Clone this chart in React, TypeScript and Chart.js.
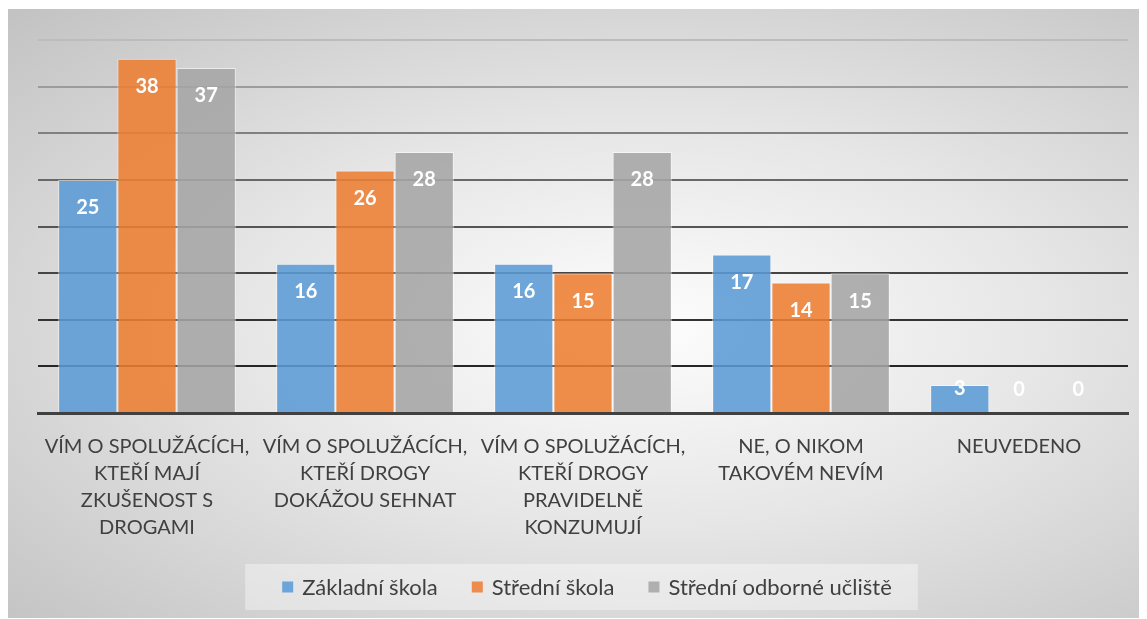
import React, { useEffect, useRef } from "react";
import { Chart, registerables } from "chart.js";

Chart.register(...registerables);

const categories: string[][] = [
  ["VÍM O SPOLUŽÁCÍCH,", "KTEŘÍ MAJÍ", "ZKUŠENOST S", "DROGAMI"],
  ["VÍM O SPOLUŽÁCÍCH,", "KTEŘÍ DROGY", "DOKÁŽOU SEHNAT"],
  ["VÍM O SPOLUŽÁCÍCH,", "KTEŘÍ DROGY", "PRAVIDELNĚ", "KONZUMUJÍ"],
  ["NE, O NIKOM", "TAKOVÉM NEVÍM"],
  ["NEUVEDENO"],
];

const seriesNames = ["Základní škola", "Střední škola", "Střední odborné učliště"];
const zakladni = [25, 16, 16, 17, 3];
const stredni = [38, 26, 15, 14, 0];
const soU = [37, 28, 28, 15, 0];

const FONT = "Lato, 'Noto Sans', sans-serif";

const gridColors: Record<number, string> = {
  0: "rgba(0,0,0,0)",
  5: "#262626",
  10: "#333333",
  15: "#454545",
  20: "#555555",
  25: "#686868",
  30: "#808080",
  35: "#9c9c9c",
  40: "#bcbcbc",
};

const dataLabelPlugin = {
  id: "dataLabels",
  afterDatasetsDraw(chart: any) {
    const ctx = chart.ctx;
    ctx.save();
    ctx.fillStyle = "#ffffff";
    ctx.font = `bold 20px ${FONT}`;
    ctx.textAlign = "center";
    ctx.textBaseline = "middle";
    chart.data.datasets.forEach((ds: any, i: number) => {
      const meta = chart.getDatasetMeta(i);
      meta.data.forEach((bar: any, j: number) => {
        const y = Math.min(bar.y + 28, bar.base - 23);
        ctx.fillText(String(ds.data[j]), bar.x, y);
      });
    });
    ctx.restore();
  },
};

const legendPlugin = {
  id: "customLegend",
  afterDraw(chart: any) {
    const ctx = chart.ctx;
    const font = `22px ${FONT}`;
    ctx.save();
    ctx.font = font;
    const box = 11;
    const gapText = 9;
    const gapItem = 34;
    const widths = chart.data.datasets.map((ds: any) => box + gapText + ctx.measureText(ds.label).width);
    const total = widths.reduce((a: number, b: number) => a + b, 0) + gapItem * (widths.length - 1);
    const cx = (chart.chartArea.left + chart.chartArea.right) / 2 + 4;
    const cy = 578;
    // box background
    ctx.fillStyle = "rgba(255,255,255,0.38)";
    ctx.fillRect(cx - total / 2 - 37, cy - 23, total + 37 + 26, 46);
    let x = cx - total / 2;
    chart.data.datasets.forEach((ds: any, i: number) => {
      ctx.fillStyle = ds.legendColor;
      ctx.fillRect(x, cy - box / 2, box, box);
      ctx.fillStyle = "#404040";
      ctx.textAlign = "left";
      ctx.textBaseline = "middle";
      ctx.fillText(ds.label, x + box + gapText, cy + 1);
      x += widths[i] + gapItem;
    });
    ctx.restore();
  },
};

export default function App() {
  const ref = useRef<HTMLCanvasElement | null>(null);
  useEffect(() => {
    if (!ref.current) return;
    const mk = (label: string, data: number[], color: string, solid: string) => ({
      label,
      data,
      backgroundColor: color,
      borderColor: "rgba(255,255,255,0.55)",
      borderWidth: 1,
      legendColor: solid,
      categoryPercentage: 0.815,
      barPercentage: 1.0,
    });
    const chart = new Chart(ref.current, {
      type: "bar",
      data: {
        labels: categories,
        datasets: [
          mk(seriesNames[0], zakladni, "rgba(91,155,213,0.88)", "#6ba5da"),
          mk(seriesNames[1], stredni, "rgba(237,125,49,0.88)", "#ee8c4d"),
          mk(seriesNames[2], soU, "rgba(165,165,165,0.88)", "#afafaf"),
        ] as any,
      },
      options: {
        animation: false,
        responsive: false,
        maintainAspectRatio: false,
        layout: { padding: { left: 30, right: 19, top: 31, bottom: 57 } },
        plugins: {
          legend: { display: false },
          tooltip: { enabled: false },
        },
        scales: {
          x: {
            grid: { display: false, drawTicks: false },
            border: { display: true, color: "#404040", width: 3 },
            ticks: {
              color: "#404040",
              font: { family: FONT, size: 20, lineHeight: 1.35 },
              padding: 20,
              maxRotation: 0,
              autoSkip: false,
            },
          },
          y: {
            min: 0,
            max: 40,
            ticks: { display: false, stepSize: 5 },
            border: { display: false },
            grid: {
              drawTicks: false,
              lineWidth: 2,
              color: (c: any) => gridColors[c.tick?.value] ?? "#888888",
            },
          },
        },
      },
      plugins: [dataLabelPlugin, legendPlugin],
    });
    return () => chart.destroy();
  }, []);

  return (
    <div
      style={{
        marginTop: 1,
        width: 1139,
        height: 609,
        background:
          "radial-gradient(ellipse farthest-corner at 56% 52%, #fdfdfd 0%, #e6e6e6 45%, #c2c2c2 100%)",
      }}
    >
      <canvas ref={ref} width={1139} height={609} style={{ display: "block" }} />
    </div>
  );
}
